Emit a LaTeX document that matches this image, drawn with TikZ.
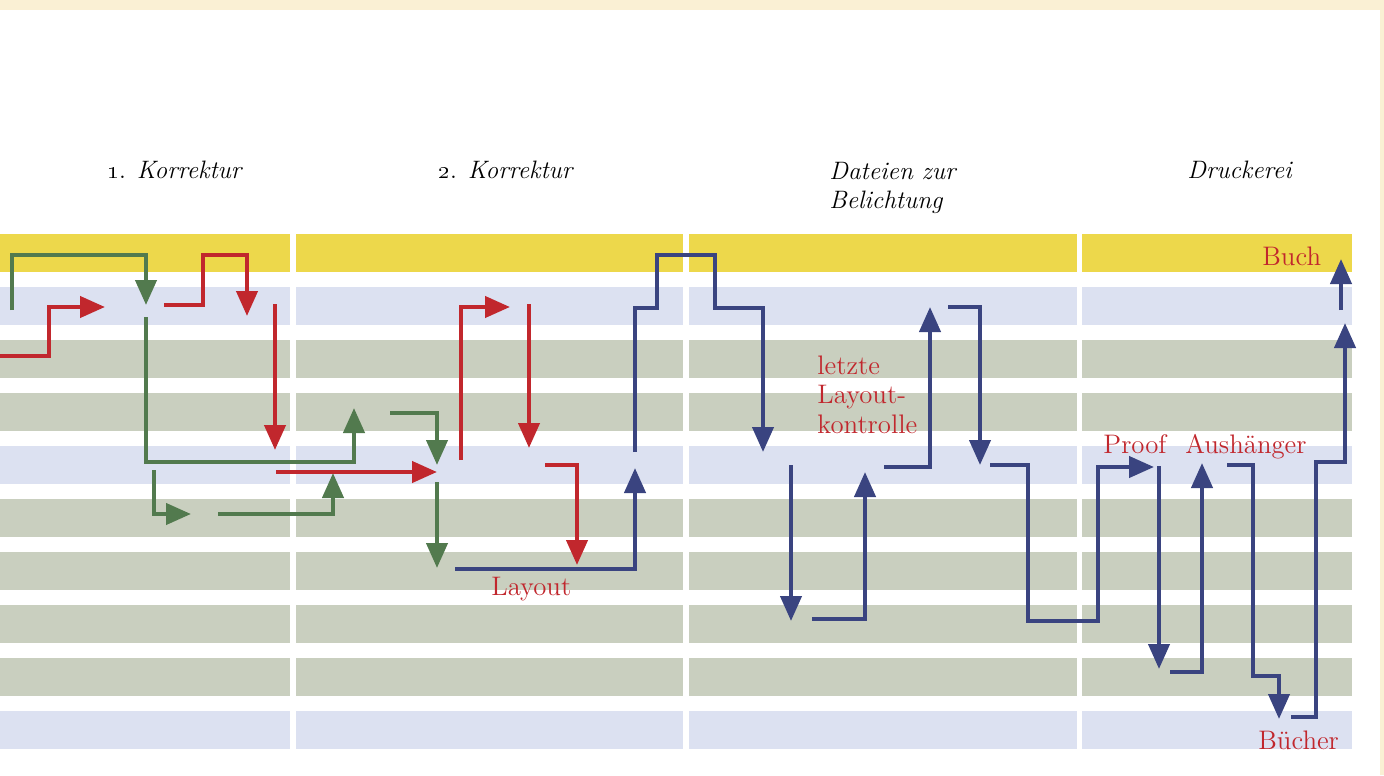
\documentclass[tikz,border=0pt]{standalone}
\usepackage{tikz}
\usetikzlibrary{arrows.meta}

\definecolor{strip}{HTML}{FAF0D4}
\definecolor{gelb}{HTML}{EDD84B}
\definecolor{hellblau}{HTML}{DCE1F1}
\definecolor{graugruen}{HTML}{C9CFBF}
\definecolor{korrgruen}{HTML}{527A4E}
\definecolor{korrrot}{HTML}{C1272D}
\definecolor{satzblau}{HTML}{3A4480}

\tikzset{
  flow/.style={line width=2.1pt, line join=miter, -{Triangle[length=12.5pt,width=10.5pt]}},
  lbl/.style={text=korrrot, inner sep=0pt, font=\fontsize{13.4}{14.75}\selectfont},
  head/.style={inner sep=0pt, font=\fontsize{12.6}{14.5}\selectfont}
}

\begin{document}
\begin{tikzpicture}[x=0.5pt,y=-0.5pt]
  \useasboundingbox (0,0) rectangle (1384,775);
  \fill[strip] (0,0) rectangle (1384,10);
  \fill[strip] (1380,10) rectangle (1384,775);

  % Zeilen und Spalten
  \foreach \r/\farbe in {0/gelb,1/hellblau,2/graugruen,3/graugruen,4/hellblau,5/graugruen,6/graugruen,7/graugruen,8/graugruen,9/hellblau}
    \foreach \xa/\xb in {0/290,296/683,689/1077,1082/1352}
      \fill[\farbe] (\xa,234+53*\r) rectangle (\xb,272+53*\r);

  % Kopfzeile
  \node[head, anchor=base west] (korr1) at (107,179) {\oldstylenums{1}. \emph{Korrektur}};
  \node[head, anchor=base west] (korr2) at (438,179) {\oldstylenums{2}. \emph{Korrektur}};
  \node[head, anchor=north west, align=left] (dateien) at (829,162) {\emph{Dateien zur}\\\emph{Belichtung}};
  \node[head, anchor=base west] (druck) at (1187,179) {\emph{Druckerei}};

  % gruen
  \draw[flow, korrgruen] (12,310) |- (146,255) -- (146,305);
  \draw[flow, korrgruen] (146,317) |- (354,462) -- (354,408);
  \draw[flow, korrgruen] (154,470) |- (191,514);
  \draw[flow, korrgruen] (218,514) -| (333,473);
  \draw[flow, korrgruen] (390,413) -| (437,465);
  \draw[flow, korrgruen] (437,482) -- (437,568);

  % rot
  \draw[flow, korrrot] (0,356) -| (49,307) -- (105,307);
  \draw[flow, korrrot] (164,305) -| (203,255) -| (247,316);
  \draw[flow, korrrot] (275,304) -- (275,450);
  \draw[flow, korrrot] (276,472) -- (437,472);
  \draw[flow, korrrot] (461,460) |- (510,307);
  \draw[flow, korrrot] (529,304) -- (529,448);
  \draw[flow, korrrot] (545,465) -| (577,565);

  % blau
  \draw[flow, satzblau] (455,569) -| (635,468);
  \draw[flow, satzblau] (635,452) |- (657,308) |- (715,255) |- (763,308) -- (763,452);
  \draw[flow, satzblau] (791,465) -- (791,621);
  \draw[flow, satzblau] (812,619) -| (865,472);
  \draw[flow, satzblau] (884,467) -| (930,307);
  \draw[flow, satzblau] (948,307) -| (980,465);
  \draw[flow, satzblau] (990,465) -| (1028,621) -| (1098,467) -- (1154,467);
  \draw[flow, satzblau] (1159,466) -- (1159,669);
  \draw[flow, satzblau] (1170,672) -| (1202,463);
  \draw[flow, satzblau] (1227,465) -| (1253,676) -| (1279,719);
  \draw[flow, satzblau] (1291,717) -| (1316,462) -| (1345,323);
  \draw[flow, satzblau] (1341,310) -- (1341,259);

  % Beschriftung
  \node[lbl, anchor=base west] (layout) at (491,595) {Layout};
  \node[lbl, anchor=north west, align=left] (letzte) at (817,355) {letzte\\Layout-\\kontrolle};
  \node[lbl, anchor=base west] (proof) at (1103,453) {Proof};
  \node[lbl, anchor=base west] (aush) at (1185,453) {Aushänger};
  \node[lbl, anchor=base west] (buch) at (1262,265) {Buch};
  \node[lbl, anchor=base west] (buecher) at (1258,749) {Bücher};
\end{tikzpicture}
\end{document}
